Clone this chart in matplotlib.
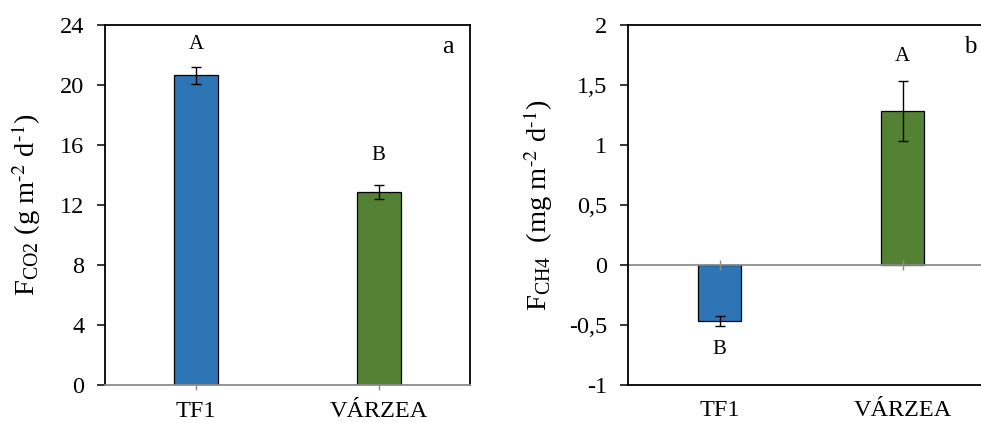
import matplotlib.pyplot as plt
from matplotlib.ticker import FuncFormatter

plt.rcParams["font.family"] = ["Liberation Serif", "DejaVu Serif"]
plt.rcParams["mathtext.fontset"] = "stix"

categories = ["TF1", "VÁRZEA"]
colors = ["#2E75B6", "#548235"]

co2_mean = [20.65, 12.85]
co2_err = [0.57, 0.48]
co2_letters = ["A", "B"]

ch4_mean = [-0.465, 1.28]
ch4_err = [0.042, 0.25]
ch4_letters = ["B", "A"]

co2_ticks = [0, 4, 8, 12, 16, 20, 24]
ch4_ticks = [-1, -0.5, 0, 0.5, 1, 1.5, 2]

fig = plt.figure(figsize=(9.81, 4.23), dpi=100)
ax1 = fig.add_axes([105 / 981, 1 - 385 / 423, 365 / 981, 360 / 423])
ax2 = fig.add_axes([628 / 981, 1 - 385 / 423, 366 / 981, 360 / 423])

x = list(range(len(categories)))
gray = "#8c8c8c"
tick_fs = 17.5


def comma_fmt(v, pos):
    return f"{v:g}".replace(".", ",")


def style(ax, ticks, lo, hi):
    ax.set_xlim(-0.5, len(categories) - 0.5)
    ax.set_ylim(lo, hi)
    ax.set_yticks(ticks)
    ax.yaxis.set_major_formatter(FuncFormatter(comma_fmt))
    ax.set_xticks(x)
    ax.set_xticklabels(categories)
    for side in ("left", "top", "right"):
        ax.spines[side].set_linewidth(1.3)
        ax.spines[side].set_color("black")
    ax.tick_params(axis="y", direction="out", length=6, width=1.1,
                   labelsize=tick_fs, pad=9)


# panel a
ax1.bar(x, co2_mean, width=0.24, color=colors, edgecolor="black",
        linewidth=0.9, zorder=2)
ax1.errorbar(x, co2_mean, yerr=co2_err, fmt="none", ecolor="black",
             elinewidth=1.0, capsize=3.5, capthick=1.0, zorder=3)
style(ax1, co2_ticks, 0, 24)
ax1.spines["bottom"].set_color(gray)
ax1.spines["bottom"].set_linewidth(1.3)
ax1.tick_params(axis="x", direction="inout", length=7, width=1.0,
                color=gray, labelsize=tick_fs, pad=8)
for xi, m, e, lab, off in zip(x, co2_mean, co2_err, co2_letters, [16, 21]):
    ax1.annotate(lab, xy=(xi, m + e), xytext=(0, off), textcoords="offset points",
                 ha="center", va="center", fontsize=15)
ax1.text(0.94, 0.94, "a", transform=ax1.transAxes, ha="center", va="center",
         fontsize=19)
ax1.set_ylabel(r"$\mathregular{F_{CO2}}$ (g m$^{\text{-2}}$ d$^{\text{-1}}$)",
               fontsize=20.5, labelpad=12)

# panel b
ax2.bar(x, ch4_mean, width=0.24, color=colors, edgecolor="black",
        linewidth=0.9, zorder=2)
ax2.errorbar(x, ch4_mean, yerr=ch4_err, fmt="none", ecolor="black",
             elinewidth=1.0, capsize=3.5, capthick=1.0, zorder=3)
style(ax2, ch4_ticks, -1, 2)
ax2.spines["bottom"].set_linewidth(1.3)
ax2.axhline(0, color=gray, linewidth=1.3, zorder=2.5)
ax2.plot(x, [0] * len(x), linestyle="none", marker="|", markersize=7,
         markeredgewidth=1.0, color=gray, zorder=2.6)
ax2.tick_params(axis="x", length=0, labelsize=tick_fs, pad=11)
for xi, m, e, lab, off in zip(x, ch4_mean, ch4_err, ch4_letters, [-17, 18]):
    edge = m - e if m < 0 else m + e
    ax2.annotate(lab, xy=(xi, edge), xytext=(0, off), textcoords="offset points",
                 ha="center", va="center", fontsize=15)
ax2.text(0.934, 0.94, "b", transform=ax2.transAxes, ha="center", va="center",
         fontsize=18)
ax2.set_ylabel(r"$\mathregular{F_{CH4}}$  (mg m$^{\text{-2}}$ d$^{\text{-1}}$)",
               fontsize=20.5, labelpad=10)

fig.savefig("out.png", dpi=100)
